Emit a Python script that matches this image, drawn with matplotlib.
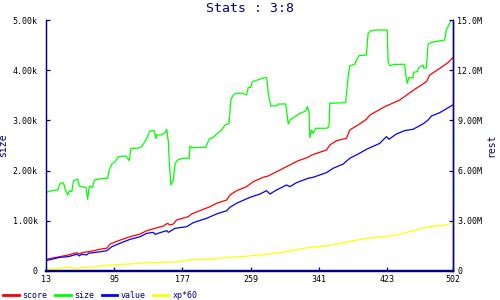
import matplotlib
matplotlib.use("Agg")
import matplotlib.pyplot as plt

# size (left axis)
size_x = [13, 20, 27, 30, 34, 36, 39, 41, 44, 46, 51, 53, 56, 61, 63, 65, 69, 71, 76, 87,
          89, 92, 96, 100, 108, 111, 113, 115, 123, 128, 133, 138, 143, 145, 145.5, 151, 156, 158, 160, 161,
          163, 166, 168, 171, 177, 185, 186, 189, 205, 209, 214, 218, 224, 228, 233, 235, 238, 241, 249, 254,
          256, 259, 261, 267, 273, 278, 279, 280, 282, 283, 290, 292, 301, 303, 304, 306, 312, 318, 325, 327,
          329, 330, 332, 334, 337, 350, 353, 354, 373, 376, 378, 384, 386, 389, 398, 400, 403, 410, 423, 424,
          426, 432, 444, 445, 447, 449, 454, 454.5, 459, 461, 466, 467, 470, 472, 476, 492, 494, 498, 500, 502]
size_y = [1568, 1600, 1614, 1747, 1759, 1627, 1514, 1600, 1580, 1793, 1833, 1693, 1679, 1667, 1428, 1693, 1667, 1813, 1833, 1847,
          2012, 2131, 2177, 2277, 2291, 2245, 2197, 2444, 2444, 2476, 2610, 2795, 2795, 2643, 2709, 2709, 2755, 2823, 2576, 2211,
          1713, 1813, 2131, 2211, 2245, 2245, 2490, 2456, 2464, 2629, 2663, 2729, 2809, 2908, 2942, 3406, 3506, 3540, 3540, 3506,
          3659, 3659, 3771, 3805, 3839, 3859, 3725, 3540, 3373, 3287, 3293, 3327, 3327, 3074, 2928, 3008, 3074, 3141, 3187, 3273,
          3173, 2655, 2809, 2743, 2843, 2843, 2874, 3341, 3353, 3870, 4090, 4117, 4203, 4289, 4303, 4735, 4781, 4801, 4801, 4169,
          4090, 4117, 4117, 3938, 3739, 3851, 3851, 3958, 3970, 4050, 4104, 4038, 4050, 4516, 4556, 4602, 4801, 4934, 5000, 5000]

# score (right axis, millions)
score_x = [13, 30, 40, 50, 53, 56, 70, 80, 86, 90, 100, 114, 126, 134, 144, 154, 159, 162, 166, 170,
           184, 188, 200, 210, 218, 230, 234, 242, 254, 262, 274, 280, 290, 306, 316, 328, 332, 350, 354, 362,
           374, 378, 388, 398, 402, 420, 438, 456, 470, 474, 486, 496, 502]
score_y = [0.70, 0.86, 0.96, 1.09, 1.02, 1.09, 1.21, 1.32, 1.36, 1.61, 1.81, 2.05, 2.21, 2.41, 2.55, 2.69, 2.85, 2.75, 2.81, 3.05,
           3.25, 3.41, 3.65, 3.84, 4.05, 4.24, 4.54, 4.80, 5.04, 5.34, 5.60, 5.68, 5.93, 6.34, 6.59, 6.80, 6.93, 7.23, 7.53, 7.79,
           7.93, 8.43, 8.73, 9.07, 9.32, 9.82, 10.22, 10.86, 11.31, 11.71, 12.11, 12.45, 12.76]

# value (right axis, millions)
value_x = [13, 30, 40, 50, 53, 56, 62, 64, 78, 86, 92, 102, 114, 126, 134, 142, 144, 150, 158, 160,
           168, 182, 190, 206, 218, 230, 234, 242, 258, 270, 278, 282, 290, 302, 306, 314, 328, 334, 350, 358,
           370, 378, 388, 398, 414, 422, 425, 434, 444, 454, 466, 472, 476, 486, 502]
value_y = [0.62, 0.82, 0.86, 1.00, 0.90, 1.00, 0.96, 1.06, 1.15, 1.21, 1.45, 1.66, 1.89, 2.05, 2.25, 2.31, 2.19, 2.29, 2.41, 2.31,
           2.55, 2.65, 2.89, 3.15, 3.41, 3.60, 3.81, 4.05, 4.40, 4.60, 4.80, 4.60, 4.84, 5.14, 5.04, 5.28, 5.54, 5.60, 5.88, 6.14,
           6.39, 6.74, 6.99, 7.27, 7.63, 8.03, 7.87, 8.19, 8.39, 8.47, 8.79, 9.02, 9.26, 9.46, 9.93]

# xp*60 (right axis, millions)
xp_x = [13, 30, 38, 48, 72, 90, 114, 134, 158, 174, 186, 206, 234, 258, 278, 302, 316, 330, 352, 376,
        398, 422, 446, 472, 494, 502]
xp_y = [0.10, 0.16, 0.22, 0.16, 0.26, 0.36, 0.42, 0.50, 0.52, 0.56, 0.66, 0.70, 0.82, 0.90, 1.00, 1.15, 1.30, 1.42, 1.51, 1.75,
        1.95, 2.05, 2.29, 2.65, 2.75, 2.89]

x_ticks = [13, 95, 177, 259, 341, 423, 502]
left_ticks = [0, 1000, 2000, 3000, 4000, 5000]
left_labels = ["0", "1.00k", "2.00k", "3.00k", "4.00k", "5.00k"]
right_ticks = [0, 3, 6, 9, 12, 15]
right_labels = ["0", "3.00M", "6.00M", "9.00M", "12.0M", "15.0M"]

navy = "#000080"
mono = "DejaVu Sans Mono"
plt.rcParams["font.family"] = mono

fig = plt.figure(figsize=(5, 3), dpi=100)
ax = fig.add_axes([0.092, 0.0967, 0.814, 0.8366])
ax2 = ax.twinx()

lw = 0.9
l_size, = ax.plot(size_x, size_y, color="#00ff00", lw=lw, label="size")
l_score, = ax2.plot(score_x, score_y, color="#ff0000", lw=lw, label="score")
l_value, = ax2.plot(value_x, value_y, color="#0000ff", lw=lw, label="value")
l_xp, = ax2.plot(xp_x, xp_y, color="#ffff00", lw=lw, label="xp*60")

ax.set_xlim(13, 502)
ax.set_ylim(0, 5000)
ax2.set_ylim(0, 15)
ax.set_xticks(x_ticks)
ax.set_xticklabels([str(t) for t in x_ticks])
ax.set_yticks(left_ticks)
ax.set_yticklabels(left_labels)
ax2.set_yticks(right_ticks)
ax2.set_yticklabels(right_labels)

for a in (ax, ax2):
    for s in a.spines.values():
        s.set_color(navy)
    a.spines["top"].set_visible(False)
    a.spines["left"].set_linewidth(0.9)
    a.spines["right"].set_linewidth(1.0)
    a.spines["bottom"].set_linewidth(1.6)
    a.tick_params(direction="in", length=3, width=0.9, color=navy, labelsize=6, labelcolor="black")
ax.tick_params(axis="y", pad=6)
ax2.tick_params(axis="y", pad=3)
ax.tick_params(axis="x", pad=3)

ax.set_ylabel("size", color=navy, fontsize=7, labelpad=3)
ax2.set_ylabel("rest", color=navy, fontsize=7, labelpad=3)
fig.suptitle("Stats : 3:8", color=navy, fontsize=9.5, y=0.995)

leg = fig.legend([l_score, l_size, l_value, l_xp], ["score", "size", "value", "xp*60"],
                 loc="lower left", bbox_to_anchor=(0.0, -0.01), ncol=4, frameon=False,
                 fontsize=6, handlelength=1.9, handletextpad=0.4, columnspacing=0.9,
                 borderaxespad=0.2, borderpad=0.2)
for t in leg.get_texts():
    t.set_color(navy)
for h in leg.legend_handles:
    h.set_linewidth(2)

fig.savefig("out.png", dpi=100)
